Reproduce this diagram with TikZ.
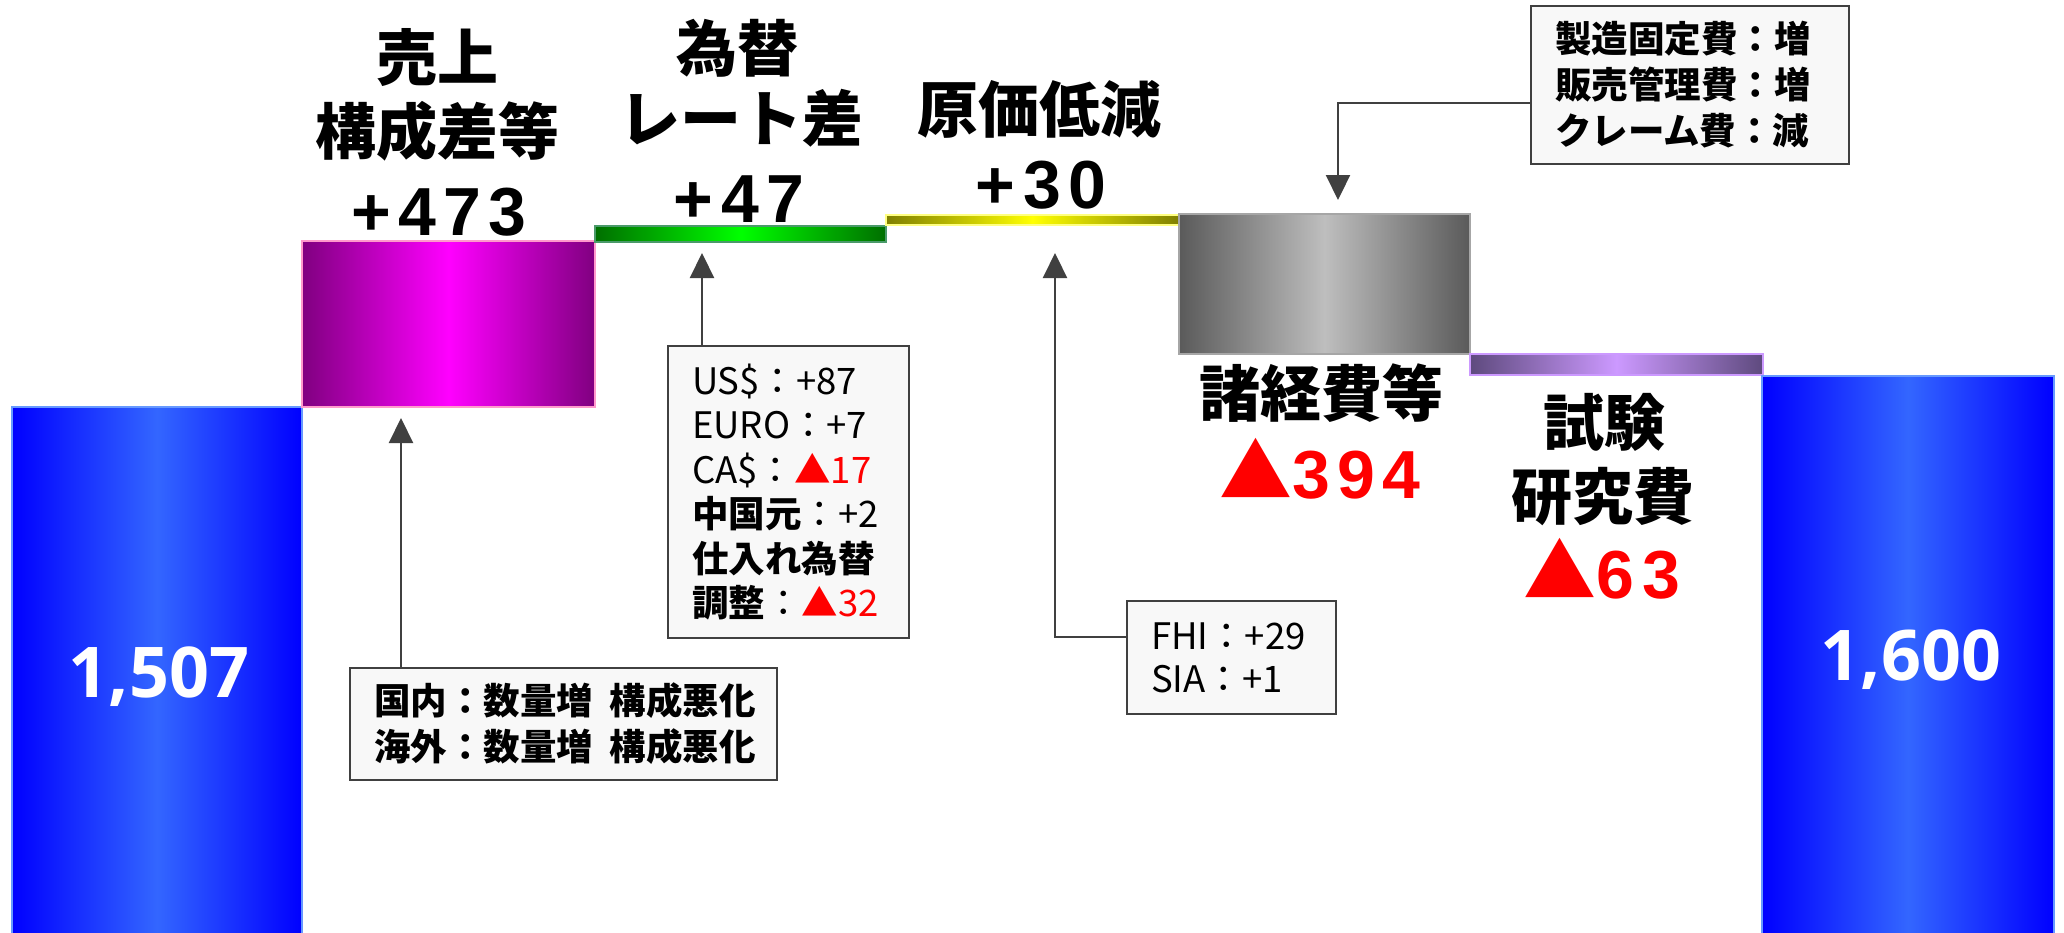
\documentclass[tikz,border=0pt]{standalone}
\usepackage{fontspec}
\setmainfont{Noto Sans CJK JP}
\newfontfamily\cjkfont{Noto Sans CJK JP}
\newfontfamily\numfont{Liberation Sans}
\newfontfamily\valfont{Open Sans}
\usetikzlibrary{arrows.meta}
\definecolor{blueE}{HTML}{0000FF}
\definecolor{blueM}{HTML}{3366FF}
\definecolor{blueB}{HTML}{6699FF}
\definecolor{magE}{HTML}{800080}
\definecolor{magM}{HTML}{FF00FF}
\definecolor{magB}{HTML}{FF99CC}
\definecolor{grnE}{HTML}{006F00}
\definecolor{grnM}{HTML}{00FF00}
\definecolor{grnB}{HTML}{4A9A6A}
\definecolor{yelE}{HTML}{808000}
\definecolor{yelM}{HTML}{FFFF00}
\definecolor{yelB}{HTML}{FFFF80}
\definecolor{gryE}{HTML}{5A5A5A}
\definecolor{gryM}{HTML}{BEBEBE}
\definecolor{gryB}{HTML}{A6A6A6}
\definecolor{purE}{HTML}{5E4A7E}
\definecolor{purM}{HTML}{CC99FF}
\definecolor{purB}{HTML}{CC99FF}
\definecolor{connC}{HTML}{404040}
\definecolor{boxF}{HTML}{F8F8F8}
\newcommand\titlefont{\cjkfont\bfseries\fontsize{61}{61}\selectfont}
\newcommand\bignumfont{\numfont\bfseries\fontsize{68}{68}\selectfont}
\newcommand\numgap{\kern7.5pt}
\newcommand\bigtri{{\cjkfont\fontsize{73}{73}\selectfont ▲}}
\begin{document}
\begin{tikzpicture}[x=1pt,y=-1pt,
  bar/.style={inner sep=0pt, outer sep=0pt, anchor=north west, line width=2pt},
  title/.style={anchor=base, inner sep=0pt, font=\titlefont},
  numlab/.style={anchor=base, inner sep=0pt, font=\bignumfont},
  valnum/.style={anchor=base, inner sep=0pt, text=white, font=\valfont\bfseries\fontsize{70}{70}\selectfont},
  infobox/.style={draw=connC, line width=2pt, fill=boxF, anchor=north west, inner xsep=24pt, inner ysep=0pt, align=left},
  conn/.style={draw=connC, line width=2.2pt, -{Triangle[length=25pt,width=24pt]}}
]
\useasboundingbox (0,0) rectangle (2064,932);
\fill[white] (0,0) rectangle (2064,932);

% bars
\node[bar, minimum width=290pt, minimum height=530pt, left color=blueE, right color=blueE, middle color=blueM, draw=blueB] (b0) at (12,407) {};
\node[bar, minimum width=293pt, minimum height=166pt, left color=magE, right color=magE, middle color=magM, draw=magB] (mag) at (302,241) {};
\node[bar, minimum width=291pt, minimum height=16pt, left color=grnE, right color=grnE, middle color=grnM, draw=grnB] (grn) at (595,226) {};
\node[bar, minimum width=293pt, minimum height=10pt, left color=yelE, right color=yelE, middle color=yelM, draw=yelB] (yel) at (886,215) {};
\node[bar, minimum width=291pt, minimum height=140pt, left color=gryE, right color=gryE, middle color=gryM, draw=gryB] (gry) at (1179,214) {};
\node[bar, minimum width=293pt, minimum height=21pt, left color=purE, right color=purE, middle color=purM, draw=purB] (pur) at (1470,354) {};
\node[bar, minimum width=292pt, minimum height=560pt, left color=blueE, right color=blueE, middle color=blueM, draw=blueB] (b1) at (1762,376) {};

% values in blue bars
\node[valnum] (v0) at (159,697) {1,507};
\node[valnum] (v1) at (1911,680) {1,600};

% titles
\node[title] (t1a) at (437,80) {売上};
\node[title] (t1b) at (437,154) {構成差等};
\node[numlab] (t1c) at (439,235) {+\numgap4\numgap7\numgap3};
\node[title] (t2a) at (737,71) {為替};
\node[title] (t2b) at (741,141) {レート差};
\node[numlab] (t2c) at (739,222) {+\numgap4\numgap7};
\node[title] (t3a) at (1039,132) {原価低減};
\node[numlab] (t3c) at (1041,208) {+\numgap3\numgap0};
\node[title] (t5a) at (1321,416) {諸経費等};
\node[numlab, text=red] (t5c) at (1320,498) {\bigtri 3\numgap9\numgap4};
\node[title] (t6a) at (1604,445) {試験};
\node[title] (t6b) at (1603,519) {研究費};
\node[numlab, text=red] (t6c) at (1602,598) {\bigtri 6\numgap3};

% info boxes
\node[infobox, text width=379pt, minimum height=112pt, font={\fontsize{36.5}{46}\selectfont\bfseries}] (A) at (349,667)
  {国内：数量増\kern17pt 構成悪化\\海外：数量増\kern17pt 構成悪化};
\node[infobox, text width=193pt, minimum height=292pt, font={\fontsize{36.5}{44.5}\selectfont}] (B) at (667,345)
  {US\$：+87\\EURO：+7\\CA\$：\textcolor{red}{▲17}\\\textbf{中国元}：+2\\\textbf{仕入れ為替}\\\textbf{調整}：\textcolor{red}{▲32}};
\node[infobox, text width=161pt, minimum height=113pt, font={\fontsize{36.5}{43}\selectfont}] (C) at (1126,600)
  {FHI：+29\\SIA：+1};
\node[infobox, text width=270pt, minimum height=158pt, font={\fontsize{36.5}{46}\selectfont\bfseries}] (D) at (1530,5)
  {製造固定費：増\\販売管理費：増\\クレーム費：減};

% connectors
\coordinate (tA) at (401,418);
\coordinate (tB) at (702,253);
\coordinate (tC) at (1055,253);
\coordinate (tD) at (1338,200);
\draw[conn] (A.north -| tA) -- (tA);
\draw[conn] (B.north -| tB) -- (tB);
\draw[conn] ([yshift=20.5pt]C.west) -| (tC);
\draw[conn] ([yshift=-18pt]D.west) -| (tD);
\end{tikzpicture}
\end{document}
